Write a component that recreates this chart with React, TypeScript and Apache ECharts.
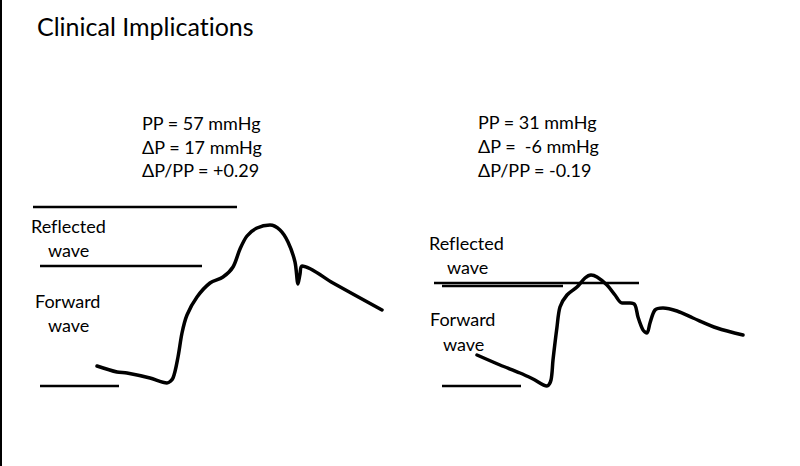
import React, { useEffect, useRef } from "react";
import * as echarts from "echarts";

// Drawing units: x = horizontal position along the slide, y = vertical position (top = 0)
const leftWaveX = [97, 117, 127, 150, 167, 173, 178, 182, 187, 197, 210, 223, 233, 240, 247, 257, 270, 280, 288, 295, 298, 300, 302, 333, 382];
const leftWaveY = [366, 372, 373, 378, 383, 378, 357, 333, 315, 297, 283, 277, 267, 249, 236, 228, 225, 230, 242, 262, 284, 274, 266, 283, 310];

const rightWaveX = [477, 500, 520, 533, 547, 551, 553, 557, 560, 567, 577, 585, 591, 597, 607, 615, 622, 630, 635, 638, 643, 647, 650, 655, 663, 677, 693, 717, 743];
const rightWaveY = [355, 365, 373, 379, 386, 380, 360, 327, 307, 295, 287, 278, 275, 277, 285, 295, 303, 303, 305, 317, 330, 333, 323, 310, 308, 311, 318, 328, 335];

// Reference levels: [level, start, end]
const leftLevels = [
  [207, 33, 237],
  [266, 40, 202],
  [386, 40, 119],
];
const rightLevels = [
  [283, 434, 639],
  [286, 442, 563],
  [386, 442, 521],
];

const title = "Clinical Implications";
const leftStats = ["PP = 57 mmHg", "ΔP = 17 mmHg", "ΔP/PP = +0.29"];
const rightStats = ["PP = 31 mmHg", "ΔP =  -6 mmHg", "ΔP/PP = -0.19"];
const reflectedLabel = ["Reflected", "wave"];
const forwardLabel = ["Forward", "wave"];

const FONT = "Lato, 'Open Sans', sans-serif";

export default function App() {
  const ref = useRef<HTMLDivElement>(null);
  useEffect(() => {
    if (!ref.current) return;
    const chart = echarts.init(ref.current, undefined, { renderer: "svg" });

    const wave = (xs: number[], ys: number[]) => xs.map((x, i) => [x, ys[i]]);
    const levelSeries = (levels: number[][]) =>
      levels.map((l) => ({
        type: "line",
        data: [
          [l[1], l[0]],
          [l[2], l[0]],
        ],
        symbol: "none",
        lineStyle: { color: "#000", width: 2.5 },
        silent: true,
      }));

    const txt = (text: string, x: number, y: number, size: number) => ({
      type: "text",
      x,
      y,
      style: {
        text,
        fill: "#000",
        font: `${size}px ${FONT}`,
        align: "left",
        verticalAlign: "middle",
      },
    });

    const graphics: any[] = [
      { type: "rect", shape: { x: 0, y: 0, width: 2, height: 466 }, style: { fill: "#000" } },
      txt(title, 37, 26, 25),
      ...leftStats.map((s, i) => txt(s, 142, 123 + i * 23.5, 18)),
      ...rightStats.map((s, i) => txt(s, 478, 122 + i * 24, 18)),
      txt(reflectedLabel[0], 31, 226, 18),
      txt(reflectedLabel[1], 48, 250, 18),
      txt(forwardLabel[0], 35, 301, 18),
      txt(forwardLabel[1], 48, 325, 18),
      txt(reflectedLabel[0], 429, 243, 18),
      txt(reflectedLabel[1], 447, 267, 18),
      txt(forwardLabel[0], 430, 319, 18),
      txt(forwardLabel[1], 443, 344, 18),
    ];

    chart.setOption({
      animation: false,
      backgroundColor: "#fff",
      grid: { left: 0, right: 0, top: 0, bottom: 0 },
      xAxis: { type: "value", min: 0, max: 800, show: false },
      yAxis: { type: "value", min: 0, max: 466, inverse: true, show: false },
      series: [
        {
          type: "line",
          data: wave(leftWaveX, leftWaveY),
          symbol: "none",
          smooth: 0.3,
          lineStyle: { color: "#000", width: 3.5, cap: "round", join: "round" },
          silent: true,
        },
        {
          type: "line",
          data: wave(rightWaveX, rightWaveY),
          symbol: "none",
          smooth: 0.3,
          lineStyle: { color: "#000", width: 3.5, cap: "round", join: "round" },
          silent: true,
        },
        ...levelSeries(leftLevels),
        ...levelSeries(rightLevels),
      ],
      graphic: graphics,
    });
    return () => chart.dispose();
  }, []);
  return (
    <>
      <style>{"svg text { font-variant-ligatures: none !important; font-feature-settings: 'liga' 0, 'clig' 0 !important; }"}</style>
      <div
        ref={ref}
        style={{ position: "fixed", left: 0, top: 0, width: 800, height: 466 }}
      />
    </>
  );
}
